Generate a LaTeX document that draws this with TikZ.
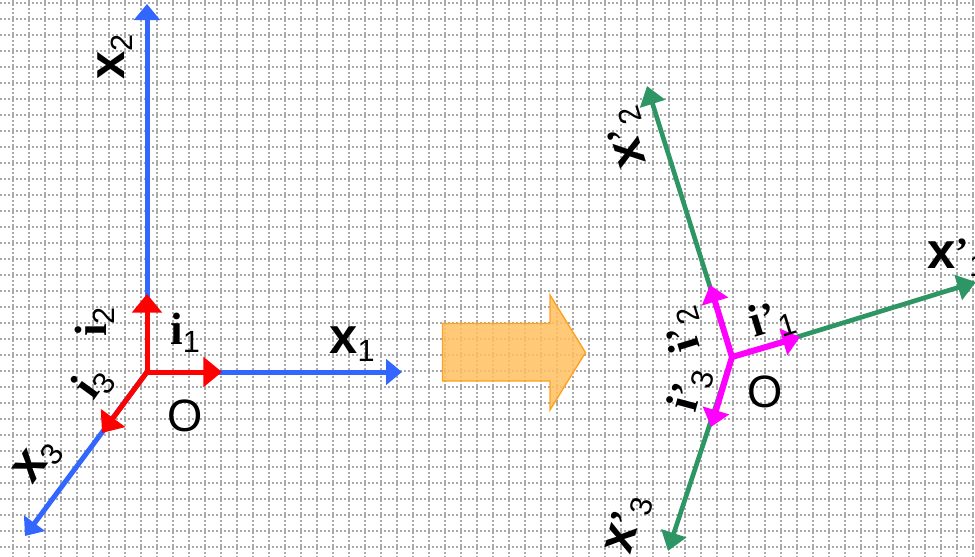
\documentclass[tikz,border=0pt]{standalone}
\usepackage{fontspec}
\setmainfont{Liberation Serif}
\setsansfont{Liberation Sans}
\usetikzlibrary{arrows.meta}

\definecolor{gridgray}{RGB}{170,170,170}
\definecolor{axisblue}{RGB}{51,102,255}
\definecolor{basered}{RGB}{255,0,0}
\definecolor{axisgreen}{RGB}{46,150,100}
\definecolor{basemag}{RGB}{255,0,255}
\definecolor{fatfill}{RGB}{255,192,96}
\definecolor{fatline}{RGB}{255,160,30}

% labels: axis x_k and base vector i_k
\newcommand{\subnum}[1]{{\sffamily\fontsize{23}{23}\selectfont\raisebox{-6pt}{#1}}}
\newcommand{\xlab}[2]{{\sffamily\bfseries\fontsize{38}{38}\selectfont x}#1\subnum{#2}}
\newcommand{\ilab}[2]{{\bfseries\fontsize{34}{34}\selectfont i}#1\subnum{#2}}
\newcommand{\prm}{{\bfseries\fontsize{30}{30}\selectfont\raisebox{2pt}{’}}}

\begin{document}
\begin{tikzpicture}[x=0.75pt,y=-0.75pt,
    gridline/.style={draw=gridgray,line width=1.5pt,dash pattern=on 1.5pt off 1.5pt},
    blueaxis/.style={draw=axisblue,line width=3.75pt,-{Triangle[length=12pt,width=19pt]}},
    redbase/.style={draw=basered,line width=3.75pt,-{Triangle[length=14pt,width=22pt]}},
    greenaxis/.style={draw=axisgreen,line width=3.5pt,-{Triangle[length=14pt,width=19pt]}},
    magbase/.style={draw=basemag,line width=4.5pt,-{Triangle[length=13pt,width=20pt]}},
    lbl/.style={inner sep=0pt,text=black},
    olbl/.style={inner sep=0pt,font=\sffamily\fontsize{34}{34}\selectfont}]

  \useasboundingbox (0,0) rectangle (975,557);

  % dotted grid
  \foreach \gx in {0,...,60}
    \draw[gridline] (12.7+16*\gx,0) -- (12.7+16*\gx,557);
  \foreach \gy in {0,...,34}
    \draw[gridline] (0,2.7+16*\gy) -- (975,2.7+16*\gy);

  % big arrow between the two frames
  \draw[fatline,fill=fatfill,fill opacity=0.85,line width=1pt]
    (442.5,323.5) -- (550,323.5) -- (550,295) -- (585.5,352.5)
    -- (550,410) -- (550,381) -- (442.5,381) -- cycle;

  % left frame
  \coordinate (o)  at (147,372);
  \coordinate (x1) at (402,372);
  \coordinate (x2) at (147,4);
  \coordinate (x3) at (25,536);
  \coordinate (i1) at (222,372);
  \coordinate (i2) at (147,294);
  \coordinate (i3) at (102,433);

  \draw[blueaxis] (o) -- (x1);
  \draw[blueaxis] (o) -- (x2);
  \draw[blueaxis] (o) -- (x3);
  \draw[redbase] (o) -- (i1);
  \draw[redbase] (o) -- (i2);
  \draw[redbase] (o) -- (i3);

  \node[lbl] (lx1) at (352,344) {\xlab{}{1}};
  \node[lbl,rotate=90] (lx2) at (115,57) {\xlab{}{2}};
  \node[lbl,rotate=54] (lx3) at (38,462) {\xlab{}{3}};
  \node[lbl] (li1) at (185,333) {\ilab{}{1}};
  \node[lbl,rotate=90] (li2) at (95,322) {\ilab{}{2}};
  \node[lbl,rotate=54] (li3) at (93,383) {\ilab{}{3}};
  \node[olbl] (lo) at (185,416) {O};

  % right frame
  \coordinate (p)   at (732,357);
  \coordinate (px1) at (976,282);
  \coordinate (px2) at (647,86);
  \coordinate (px3) at (668,551);
  \coordinate (pi1) at (800,337);
  \coordinate (pi2) at (710,285);
  \coordinate (pi3) at (711,427);

  \draw[greenaxis] (p) -- (px1);
  \draw[greenaxis] (p) -- (px2);
  \draw[greenaxis] (p) -- (px3);
  \draw[magbase] (p) -- (pi1);
  \draw[magbase] (p) -- (pi2);
  \draw[magbase] (p) -- (pi3);

  \node[lbl] (lpx1) at (957,258) {\xlab{\prm}{1}};
  \node[lbl,rotate=107] (lpx2) at (628,138) {\xlab{\prm}{2}};
  \node[lbl,rotate=75] (lpx3) at (628,525) {\xlab{\prm}{3}};
  \node[lbl,rotate=17] (lpi1) at (772,320) {\ilab{\prm}{1}};
  \node[lbl,rotate=107] (lpi2) at (683,330) {\ilab{\prm}{2}};
  \node[lbl,rotate=75] (lpi3) at (690,390) {\ilab{\prm}{3}};
  \node[olbl] (lp) at (765,392) {O};

\end{tikzpicture}
\end{document}
